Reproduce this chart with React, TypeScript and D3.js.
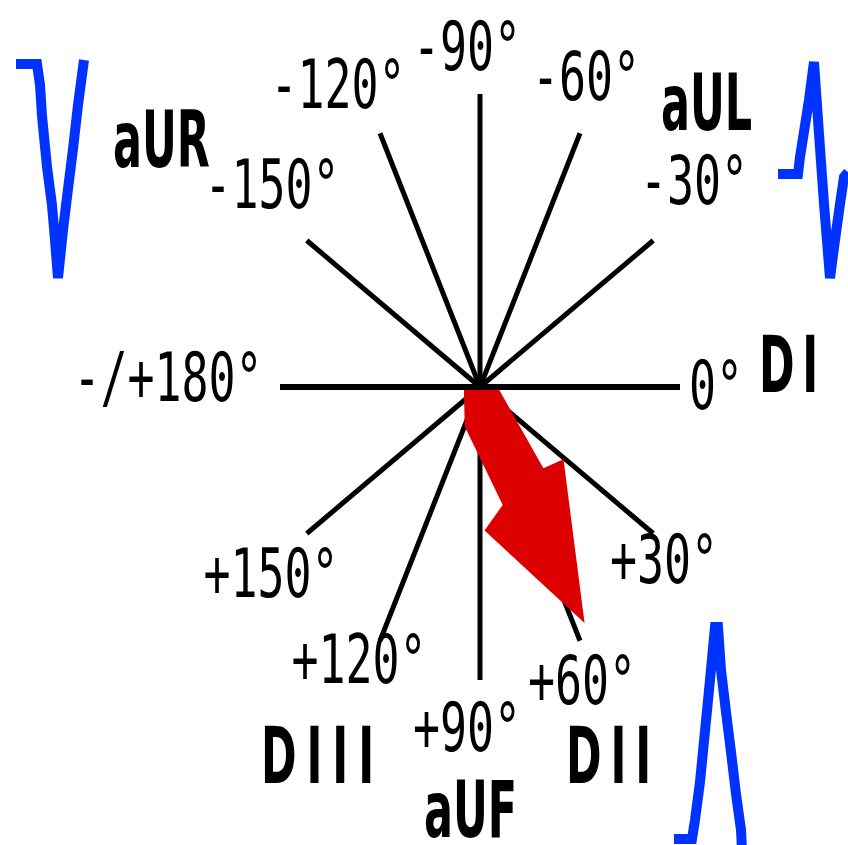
import React from "react";
import * as d3 from "d3";

const W = 848;
const H = 845;

// Hexaxial reference system: axis directions (degrees, clockwise from DI)
const axisAngles = [0, 30, 60, 90, 120, 150, 180, -150, -120, -90, -60, -30];

// Degree labels
const degreeLabels = ["0°", "+30°", "+60°", "+90°", "+120°", "+150°", "-/+180°", "-150°", "-120°", "-90°", "-60°", "-30°"];

// Lead labels
const leadLabels = ["DI", "DII", "DIII", "aUR", "aUL", "aUF"];

// Electrical axis (arrow)
const arrowAngle = 57;
const arrowMagnitude = 0.96;

// Waveform samples (time units, amplitude units)
const aurT = [0, 21, 24, 26, 31, 36, 39, 42, 47, 52, 57, 62, 68];
const aurV = [0, 0, -2.1, -5.2, -10.3, -14.1, -17.6, -21.4, -16.6, -12.5, -8.5, -4.1, 0.4];

const aulT = [0, 20, 22, 25, 31, 36, 41, 46, 52, 57, 62, 66, 70];
const aulV = [0, 0, 1.7, 3.6, 7.4, 11.2, 4.0, -3.0, -10.4, -6.6, -3.0, -0.3, 0.2];

const diiT = [0, 18, 21, 26, 31, 36, 41, 44, 47, 52, 57, 62, 67, 68];
const diiV = [0, 0, 1.9, 5.7, 10.8, 15.9, 21.2, 21.2, 16.9, 12.7, 8.7, 4.5, 0.9, -1.1];

// ---- layout (not data) ----
const degreeLabelPos: Record<string, [number, number]> = {
  "0°": [716, 409],
  "+30°": [664, 583],
  "+60°": [582, 704],
  "+90°": [467, 751],
  "+120°": [359, 683],
  "+150°": [271, 597],
  "-/+180°": [168, 401],
  "-150°": [272, 208],
  "-120°": [338, 108],
  "-90°": [467, 70],
  "-60°": [586, 100],
  "-30°": [694, 204],
};

const leadLabelPos: Record<string, [number, number, number]> = {
  DI: [759, 392, 14],
  DII: [566, 783, 16],
  DIII: [261, 783, 18],
  aUR: [113, 167, 0],
  aUL: [661, 130, 0],
  aUF: [424, 837, 0],
};

const waves = [
  { t: aurT, v: aurV, x: [16, 84], base: 64 },
  { t: aulT, v: aulV, x: [778, 848], base: 174 },
  { t: diiT, v: diiV, x: [674, 742], base: 839 },
];

export default function App() {
  const sx = d3.scaleLinear().domain([-1, 1]).range([280, 680]);
  const sy = d3.scaleLinear().domain([-1, 1]).range([94, 680]);
  const x0 = sx(0);
  const y0 = sy(0);
  const rad = (d: number) => (d * Math.PI) / 180;

  const axisLines = axisAngles.map((a) => ({
    a,
    x: sx(Math.cos(rad(a))),
    y: sy(Math.sin(rad(a))),
  }));

  // arrow
  const ax1 = sx(Math.cos(rad(arrowAngle)) * arrowMagnitude);
  const ay1 = sy(Math.sin(rad(arrowAngle)) * arrowMagnitude);
  const L = Math.hypot(ax1 - x0, ay1 - y0);
  const ux = (ax1 - x0) / L;
  const uy = (ay1 - y0) / L;
  const nx = uy;
  const ny = -ux;
  const shape: [number, number][] = [
    [-6, -15],
    [30, -30],
    [117, -27],
    [133, -54],
    [L, 0],
    [100, 47],
    [100, 25],
    [6, 16],
  ];
  const arrowPts = shape.map(([a, b]) => [x0 + ux * a + nx * b, y0 + uy * a + ny * b]);
  const arrowPath = "M" + arrowPts.map((p) => p.join(",")).join("L") + "Z";

  const wavePaths = waves.map((w) => {
    const tx = d3.scaleLinear().domain([0, w.t[w.t.length - 1]]).range(w.x);
    const vy = d3.scaleLinear().domain([0, 1]).range([w.base, w.base - 10]);
    const line = d3
      .line<number>()
      .x((_, i) => tx(w.t[i]))
      .y((d) => vy(d));
    return line(w.v) || "";
  });

  const horiz = axisLines.filter((l) => l.a === 0 || l.a === 180);
  const others = axisLines.filter((l) => !(l.a === 0 || l.a === 180));

  return (
    <svg
      width={W}
      height={H}
      style={{ position: "absolute", left: 0, top: 0, background: "#fff" }}
    >
      <rect x={0} y={0} width={W} height={H} fill="#fff" />
      {others.map((l) => (
        <line key={l.a} x1={x0} y1={y0} x2={l.x} y2={l.y} stroke="#000" strokeWidth={5} />
      ))}
      <path d={arrowPath} fill="#dd0000" />
      {horiz.map((l) => (
        <line key={l.a} x1={x0} y1={y0} x2={l.x} y2={l.y} stroke="#000" strokeWidth={6} />
      ))}
      {wavePaths.map((d, i) => (
        <path
          key={i}
          d={d}
          fill="none"
          stroke="#0033ff"
          strokeWidth={10}
          strokeLinejoin="miter"
          strokeMiterlimit={2}
        />
      ))}
      {degreeLabels.map((t) => {
        const [x, y] = degreeLabelPos[t];
        return (
          <text
            key={t}
            transform={`translate(${x},${y}) scale(0.66,1)`}
            textAnchor="middle"
            fontFamily="DejaVu Sans Mono"
            fontSize={68}
            fill="#000"
          >
            {t}
          </text>
        );
      })}
      {leadLabels.map((t) => {
        const [x, y, ls] = leadLabelPos[t];
        return (
          <text
            key={t}
            transform={`translate(${x},${y}) scale(0.55,1)`}
            textAnchor="start"
            fontFamily="DejaVu Sans"
            fontWeight="bold"
            fontSize={78}
            letterSpacing={ls}
            fill="#000"
          >
            {t}
          </text>
        );
      })}
    </svg>
  );
}
